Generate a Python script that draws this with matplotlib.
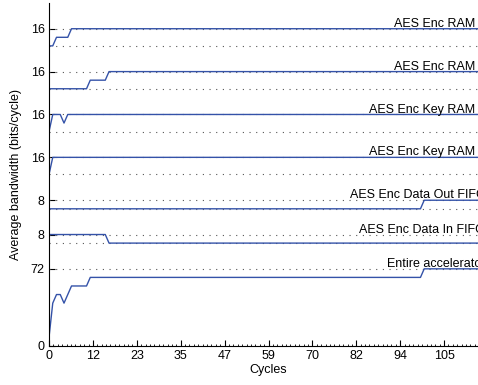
import numpy as np
import matplotlib
matplotlib.use('Agg')
import matplotlib.pyplot as plt

plt.rcParams['font.family'] = ['Liberation Sans', 'DejaVu Sans']
plt.rcParams['font.size'] = 9

# series names, top to bottom
nombres = ['AES Enc RAM 0', 'AES Enc RAM 1', 'AES Enc Key RAM 0', 'AES Enc Key RAM 1',
           'AES Enc Data Out FIFO', 'AES Enc Data In FIFO', 'Entire accelerator']
# max value of each band (tick label) and stacking offset
maximos = [16, 16, 16, 16, 8, 8, 72]
offsets = [280, 240, 200, 160, 128, 96, 0]

# breakpoints (cycle, bits/cycle)
x_ram0 = [0, 1, 2, 5, 6, 117]
y_ram0 = [0, 0, 8, 8, 16, 16]
x_ram1 = [0, 10, 11, 15, 16, 117]
y_ram1 = [0, 0, 8, 8, 16, 16]
x_key0 = [0, 1, 3, 4, 5, 117]
y_key0 = [0, 16, 16, 8, 16, 16]
x_key1 = [0, 1, 117]
y_key1 = [0, 16, 16]
x_out = [0, 99, 100, 117]
y_out = [0, 0, 8, 8]
x_in = [0, 15, 16, 117]
y_in = [8, 8, 0, 0]
x_tot = [0, 1, 2, 3, 4, 5, 6, 10, 11, 99, 100, 117]
y_tot = [8, 40, 48, 48, 40, 48, 56, 56, 64, 64, 72, 72]

series = [(x_ram0, y_ram0), (x_ram1, y_ram1), (x_key0, y_key0), (x_key1, y_key1),
          (x_out, y_out), (x_in, y_in), (x_tot, y_tot)]

xmax = 117
azul = '#3452a8'

fig = plt.figure(figsize=(4.78, 3.85), dpi=100)
ax = fig.add_axes([49 / 478, 39 / 385, 439 / 478, 343 / 385])

for nombre, m, off, (xs, ys) in zip(nombres, maximos, offsets, series):
    ax.plot([0, xmax], [off + m, off + m], ls=(0, (1, 5)), color='#555555', lw=0.8)
    if off > 0:
        ax.plot([0, xmax], [off, off], ls=(0, (1, 5)), color='#555555', lw=0.8)
    ax.plot(xs, np.array(ys) + off, color=azul, lw=1.0)
    ax.text(116.3, off + m + 1.8, nombre, ha='right', va='baseline', fontsize=9)

ax.set_xlim(0, xmax)
ax.set_ylim(0, 320)

xt = np.arange(11) * 11.7
ax.set_xticks(xt)
ax.set_xticklabels([str(int(np.floor(v + 0.5))) for v in xt])
ax.set_xticks(np.arange(0, xmax, 1.17), minor=True)

yt = [0] + [o + m for o, m in zip(offsets, maximos)]
ax.set_yticks(yt)
ax.set_yticklabels(['0'] + [str(m) for m in maximos])

ax.tick_params(direction='in', length=4, width=0.8, pad=3, labelsize=9)
ax.tick_params(axis='x', which='minor', direction='in', length=1.5, width=0.6)
ax.tick_params(axis='y', which='minor', length=0)

ax.spines['top'].set_visible(False)
ax.spines['right'].set_visible(False)

ax.set_xlabel('Cycles', labelpad=1)
ax.set_ylabel('Average bandwidth (bits/cycle)', labelpad=6)

plt.savefig('out.png', dpi=100)
